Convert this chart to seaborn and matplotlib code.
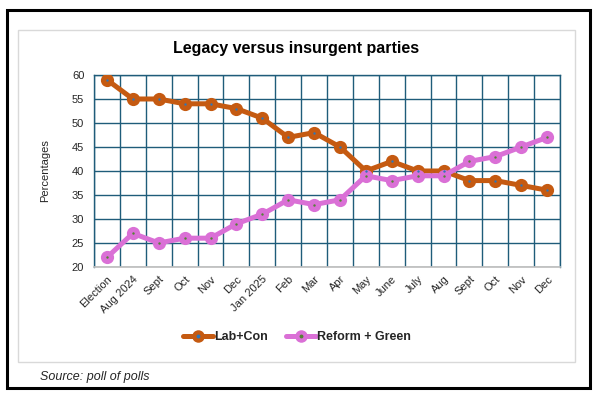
import numpy as np
import pandas as pd
import matplotlib
matplotlib.use("Agg")
import matplotlib.pyplot as plt
from matplotlib.patches import Rectangle
from matplotlib.lines import Line2D
import seaborn as sns

months = ["Election", "Aug 2024", "Sept", "Oct", "Nov", "Dec", "Jan 2025", "Feb",
          "Mar", "Apr", "May", "June", "July", "Aug", "Sept", "Oct", "Nov", "Dec"]
lab_con = [59, 55, 55, 54, 54, 53, 51, 47, 48, 45, 40, 42, 40, 40, 38, 38, 37, 36]
reform_green = [22, 27, 25, 26, 26, 29, 31, 34, 33, 34, 39, 38, 39, 39, 42, 43, 45, 47]
series_names = ["Lab+Con", "Reform + Green"]
y_ticks = [20, 25, 30, 35, 40, 45, 50, 55, 60]

LINE_COLORS = {"Lab+Con": "#C55A11", "Reform + Green": "#DA70D6"}
DOT_COLORS = {"Lab+Con": "#2E75B6", "Reform + Green": "#548235"}
GRID = "#1F5C7A"

sns.set_theme(style="white")
plt.rcParams["font.family"] = ["Liberation Sans", "DejaVu Sans"]

idx = np.arange(len(months))
df = pd.DataFrame({
    "pos": np.concatenate([idx, idx]),
    "value": lab_con + reform_green,
    "series": [series_names[0]] * len(idx) + [series_names[1]] * len(idx),
})

fig = plt.figure(figsize=(5.97, 3.97), dpi=100)
ax = fig.add_axes([0.1575, 0.3275, 0.7806, 0.4836])

sns.lineplot(data=df, x="pos", y="value", hue="series", palette=LINE_COLORS,
             marker="o", markersize=9.5, markeredgewidth=0, linewidth=3.6,
             legend=False, ax=ax, zorder=3)
for name in series_names:
    sub = df[df["series"] == name]
    ax.scatter(sub["pos"], sub["value"], s=3, color=DOT_COLORS[name], zorder=5, linewidths=0)

ax.set_xlim(-0.5, len(months) - 0.5)
ax.set_ylim(20, 60)
ax.set_yticks(y_ticks)
ax.set_xticks(idx)
ax.set_xticklabels(months, rotation=45, ha="right", rotation_mode="anchor", fontsize=8, color="#262626")
ax.tick_params(axis="y", labelsize=8, colors="#262626", length=0, pad=7)
ax.tick_params(axis="x", length=0, pad=5)
ax.set_xticks(np.arange(-0.5, len(months), 1), minor=True)
ax.tick_params(axis="x", which="minor", length=0)
ax.grid(False)
ax.grid(True, axis="x", which="minor", color=GRID, linewidth=1.0, zorder=1)
ax.grid(True, axis="y", which="major", color=GRID, linewidth=1.0, zorder=1)
for side in ["left", "top", "right"]:
    ax.spines[side].set_color(GRID)
    ax.spines[side].set_linewidth(1.0)
ax.spines["bottom"].set_color("#BFBFBF")
ax.set_xlabel("")
ax.set_ylabel("Percentages", fontsize=8, color="#262626", labelpad=16)

fig.text(296 / 597, 1 - 48 / 397, "Legacy versus insurgent parties", fontsize=11.5,
         fontweight="bold", ha="center", va="center", color="black")

handles = []
for name in series_names:
    ln = Line2D([], [], color=LINE_COLORS[name], linewidth=3.6, marker="o",
                markersize=9, markeredgewidth=0)
    dot = Line2D([], [], linestyle="none", marker="o", markersize=1.8,
                 color=DOT_COLORS[name])
    handles.append((ln, dot))
fig.legend(handles, series_names, loc="center", bbox_to_anchor=(297 / 597, 1 - 337 / 397), ncol=2,
           frameon=False, handlelength=2.4, columnspacing=1.4, handletextpad=0.1,
           prop={"weight": "bold", "size": 9})

# chart area border and outer frame
fig.patches.append(Rectangle((18 / 597, 1 - 362 / 397), 557 / 597, 332 / 397,
                             transform=fig.transFigure, fill=False,
                             edgecolor="#D9D9D9", linewidth=1.0))
fig.patches.append(Rectangle((7 / 597, 1 - 388 / 397), 583 / 597, 378 / 397,
                             transform=fig.transFigure, fill=False,
                             edgecolor="black", linewidth=2.2))

fig.text(40 / 597, 1 - 377 / 397, "Source: poll of polls", fontsize=9, style="italic",
         va="center", ha="left", color="#262626")

fig.savefig("out.png", dpi=100)
